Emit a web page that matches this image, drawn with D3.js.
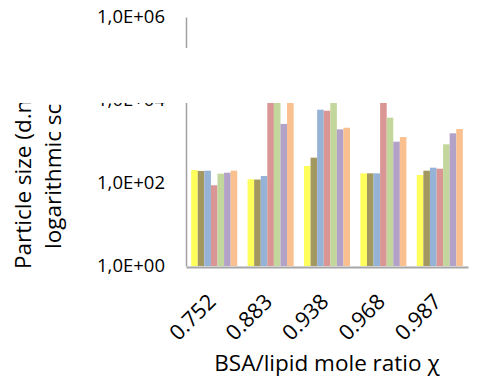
<!DOCTYPE html>
<html>
<head>
<meta charset="utf-8">
<script src="https://cdn.jsdelivr.net/npm/d3@7"></script>
<style>
  body { margin: 0; background: #fff; }
  svg { display: block; font-family: "Open Sans", sans-serif; }
</style>
</head>
<body>
<svg width="477" height="383"></svg>
<script>
var width = 477;
var height = 383;

// categories on x (BSA/lipid mole ratio)
var categories = ["0.752", "0.883", "0.938", "0.968", "0.987"];

// particle size (d.nm) per series, one value per category
var seriesNames = ["s1", "s2", "s3", "s4", "s5", "s6", "s7"];
var yellowVals = [205, 123, 257, 171, 156];
var oliveVals  = [195, 121, 408, 171, 198];
var blueVals   = [198, 147, 5840, 171, 234];
var redVals    = [88, 20000, 5520, 16000, 221];
var greenVals  = [168, 18000, 12000, 3750, 856];
var purpleVals = [177, 2650, 1960, 990, 1575];
var orangeVals = [198, 22000, 2150, 1280, 2000];

var yTickValues = [1, 1e2, 1e4, 1e6];
var yTickLabels = ["1,0E+00", "1,0E+02", "1,0E+04", "1,0E+06"];

var colors = ["#ffff5c", "#a39860", "#95b3d7", "#d99694", "#c3d69b", "#b3a2c7", "#fac090"];

var allSeries = [yellowVals, oliveVals, blueVals, redVals, greenVals, purpleVals, orangeVals];

var svg = d3.select("svg");

var x = d3.scaleBand()
    .domain(categories)
    .range([186, 468])
    .paddingInner(0.184)
    .paddingOuter(0.092);

var xs = d3.scaleBand()
    .domain(seriesNames)
    .range([0, x.bandwidth()]);

var y = d3.scaleLog()
    .domain([1, 1e6])
    .range([266, 17]);

// bars
var groups = svg.append("g").selectAll("g")
    .data(categories)
    .enter()
    .append("g")
    .attr("transform", function(c) { return "translate(" + x(c) + ",0)"; });

groups.selectAll("rect")
    .data(function(c, ci) {
        return seriesNames.map(function(s, si) {
            return { s: s, i: si, v: allSeries[si][ci] };
        });
    })
    .enter()
    .append("rect")
    .attr("x", function(d) { return xs(d.s); })
    .attr("width", xs.bandwidth())
    .attr("y", function(d) { return y(d.v); })
    .attr("height", function(d) { return y(1) - y(d.v); })
    .attr("fill", function(d) { return colors[d.i]; });

// y axis
var yAxis = d3.axisLeft(y)
    .tickValues(yTickValues)
    .tickFormat(function(d, i) { return yTickLabels[i]; })
    .tickSize(0)
    .tickPadding(21);
var yg = svg.append("g")
    .attr("transform", "translate(186,0)")
    .call(yAxis);
yg.select(".domain").attr("stroke", "#a0a0a0").attr("stroke-width", 1.5);
yg.selectAll("text")
    .attr("fill", "#000")
    .style("font-size", "18.5px")
    .style("font-family", "Open Sans");

// x axis
var xAxis = d3.axisBottom(x).tickSize(0).tickSizeOuter(0);
var xg = svg.append("g")
    .attr("transform", "translate(0,267)")
    .call(xAxis);
xg.select(".domain").attr("stroke", "#a6a6a6").attr("stroke-width", 2);
xg.selectAll(".tick text")
    .attr("fill", "#000")
    .style("font-size", "21.5px")
    .style("font-family", "Open Sans")
    .attr("text-anchor", "end")
    .attr("dy", null)
    .attr("y", null)
    .attr("transform", "translate(3,36) rotate(-45)");

// axis titles
svg.append("text")
    .attr("x", 327)
    .attr("y", 371)
    .attr("text-anchor", "middle")
    .style("font-size", "22.5px")
    .text("BSA/lipid mole ratio \u03c7");

svg.append("text")
    .attr("transform", "translate(31,269) rotate(-90)")
    .style("font-size", "22.5px")
    .text("Particle size (d.nm,");
svg.append("text")
    .attr("transform", "translate(61,249) rotate(-90)")
    .style("font-size", "22.5px")
    .text("logarithmic scale)");

// the picture has a blank band across the top part of the plot
svg.append("rect")
    .attr("x", 0)
    .attr("y", 48)
    .attr("width", width)
    .attr("height", 55)
    .attr("fill", "#fff");
</script>
</body>
</html>
